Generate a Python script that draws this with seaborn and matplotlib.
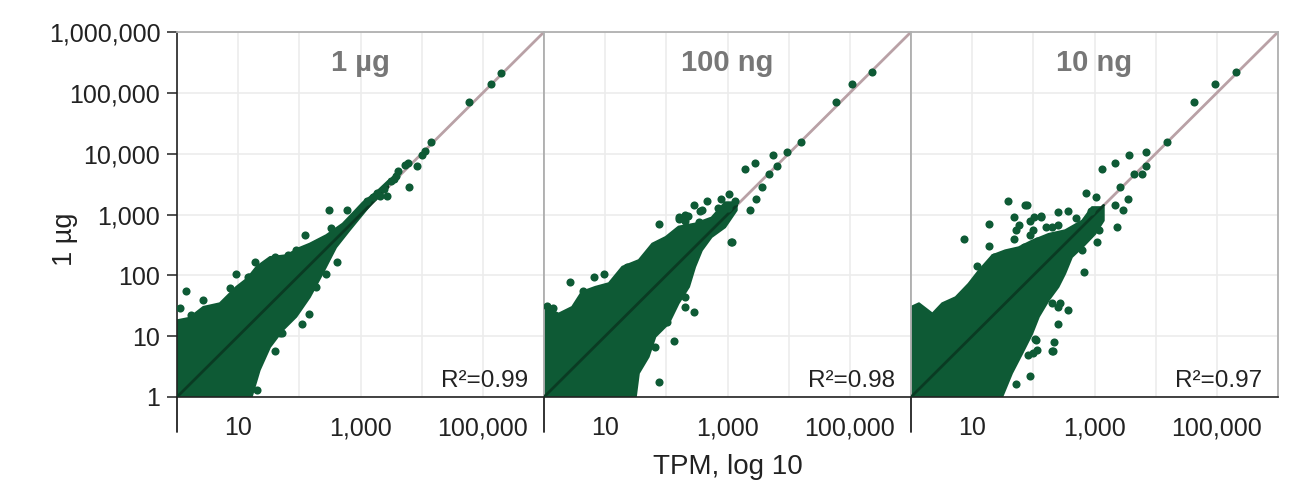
"""Three-panel log-log TPM scatter: 1 µg reference vs. 1 µg / 100 ng / 10 ng input."""

import matplotlib

matplotlib.use("Agg")

import matplotlib.pyplot as plt
import matplotlib.ticker as mticker
import numpy as np
import seaborn as sns

sns.set_style("white")
plt.rcParams["font.family"] = ["Liberation Sans", "DejaVu Sans"]

GREEN = "#0e5a35"
DARK_GREEN = "#0a3b23"
DIAG_COLOR = "#b9a1a6"
GRID_COLOR = "#ececec"
FRAME_GRAY = "#b0b0b0"
INK = "#222222"

PANEL_TITLES = ["1 µg", "100 ng", "10 ng"]
R_SQUARED = [0.99, 0.98, 0.97]
DECADES = [1, 10, 100, 1_000, 10_000, 100_000, 1_000_000]
X_LABELED = [10, 1_000, 100_000]
AXIS_MAX = 1_000_000

# Dense point cloud, outlined in log10 units (upper edge and lower edge, left -> right)
UG1_UPPER_X = [0.0, 0.2, 0.43, 0.7, 0.97, 1.15, 1.3, 1.52, 1.79, 2.0, 2.17, 2.44, 2.71, 2.9, 3.04, 3.26, 3.45]
UG1_UPPER_Y = [1.26, 1.3, 1.48, 1.54, 1.81, 1.95, 2.14, 2.3, 2.33, 2.45, 2.52, 2.66, 2.85, 3.05, 3.2, 3.37, 3.55]
UG1_LOWER_X = [1.22, 1.35, 1.52, 1.73, 1.95, 2.17, 2.38, 2.6, 2.82, 3.04, 3.26, 3.45]
UG1_LOWER_Y = [0.0, 0.44, 0.82, 1.1, 1.32, 1.64, 2.03, 2.46, 2.74, 3.01, 3.28, 3.45]

NG100_UPPER_X = [0.0, 0.24, 0.46, 0.62, 0.84, 1.06, 1.28, 1.55, 1.77, 1.99, 2.2, 2.47, 2.74, 2.96, 3.15]
NG100_UPPER_Y = [1.48, 1.37, 1.48, 1.73, 1.81, 1.87, 2.14, 2.25, 2.52, 2.63, 2.8, 2.85, 2.95, 3.2, 3.2]
NG100_LOWER_X = [1.5, 1.55, 1.71, 1.82, 2.04, 2.2, 2.37, 2.47, 2.58, 2.74, 2.96, 3.15]
NG100_LOWER_Y = [0.0, 0.39, 0.66, 0.99, 1.21, 1.54, 1.81, 2.14, 2.41, 2.63, 2.79, 3.07]

NG10_UPPER_X = [0.0, 0.13, 0.35, 0.51, 0.73, 0.94, 1.11, 1.33, 1.54, 1.76, 1.98, 2.25, 2.52, 2.8, 2.96, 3.15]
NG10_UPPER_Y = [1.48, 1.54, 1.37, 1.54, 1.64, 1.86, 2.08, 2.33, 2.41, 2.46, 2.57, 2.68, 2.74, 2.9, 3.12, 3.12]
NG10_LOWER_X = [1.49, 1.65, 1.82, 1.98, 2.09, 2.25, 2.41, 2.52, 2.63, 2.8, 3.01, 3.15]
NG10_LOWER_Y = [0.0, 0.39, 0.72, 1.04, 1.32, 1.59, 1.81, 2.03, 2.3, 2.46, 2.68, 2.9]

# Individually visible genes (log10 TPM)
UG1_PTS_X = [5.29, 5.13, 4.78, 4.16, 4.06, 4.0, 3.93, 3.8, 3.78, 3.72, 3.62, 3.58, 3.5, 3.55, 3.38,
             3.43, 3.27, 2.49, 2.78, 2.09, 2.62, 1.27, 0.96, 1.17, 0.87, 0.15, 0.42, 0.05, 0.23,
             2.15, 2.04, 1.68, 1.6, 1.3, 1.16, 1.6, 1.82, 1.95, 2.28, 2.52, 1.71, 2.28, 2.44,
             3.1, 3.2, 3.32]
UG1_PTS_Y = [5.33, 5.14, 4.85, 4.2, 4.04, 3.98, 3.8, 3.46, 3.84, 3.82, 3.72, 3.64, 3.55, 3.58, 3.42,
             3.3, 3.36, 3.07, 3.07, 2.67, 2.22, 2.22, 2.02, 1.97, 1.8, 1.75, 1.59, 1.47, 1.34,
             1.36, 1.2, 1.05, 0.76, 0.11, 1.97, 2.3, 2.33, 2.41, 2.52, 2.77, 1.05, 1.81, 2.03,
             3.22, 3.28, 3.3]

NG100_PTS_X = [5.36, 5.04, 4.78, 4.2, 3.98, 3.75, 3.81, 3.68, 3.57, 3.47, 3.45, 3.29, 3.36, 3.06,
               1.88, 0.43, 0.82, 0.98, 0.63, 2.46, 2.13, 1.88, 2.45, 2.67, 3.02, 0.14, 0.05,
               2.35, 2.55, 2.85, 2.2, 2.3, 2.9, 1.36, 1.5, 2.2, 2.59, 2.53, 2.31, 3.07, 2.31,
               2.01, 1.82, 2.31, 3.0, 3.12]
NG100_PTS_Y = [5.34, 5.14, 4.85, 4.19, 4.03, 3.97, 3.8, 3.67, 3.46, 3.26, 3.85, 3.75, 3.07, 2.54,
               2.85, 1.89, 1.98, 2.02, 1.75, 1.4, 0.92, 0.25, 3.16, 3.23, 3.34, 1.46, 1.5,
               2.98, 3.05, 3.1, 2.92, 3.0, 3.25, 2.14, 2.0, 2.96, 3.07, 2.87, 2.9, 2.55, 1.48,
               1.23, 0.82, 1.64, 3.1, 3.22]

NG10_PTS_X = [5.31, 4.97, 4.62, 4.18, 3.84, 3.56, 3.84, 3.65, 3.78, 3.42, 3.55, 3.33, 3.13, 3.34,
              3.46, 3.36, 2.83, 1.58, 1.9, 1.28, 0.86, 1.28, 1.69, 2.13, 2.41, 2.56, 2.43, 2.56,
              2.41, 2.34, 2.05, 1.94, 2.32, 1.99, 3.03, 2.86, 1.72, 2.0, 2.2, 1.95, 2.7, 2.95,
              1.08, 1.35, 1.68, 1.84, 1.95, 2.06, 2.31, 2.41, 1.76, 2.01, 2.12, 1.87, 2.8, 3.04,
              3.07, 2.41, 2.31, 2.31, 2.06, 2.03, 1.92, 1.71]
NG10_PTS_Y = [5.34, 5.14, 4.85, 4.19, 4.03, 3.97, 3.8, 3.66, 3.66, 3.46, 3.26, 3.84, 3.74, 3.16,
              3.08, 2.79, 2.05, 3.23, 3.16, 2.84, 2.59, 2.48, 2.96, 2.98, 3.04, 3.05, 1.54, 1.43,
              1.2, 0.91, 0.93, 0.34, 0.76, 0.72, 3.28, 3.35, 2.75, 2.75, 2.8, 2.9, 2.95, 3.05,
              2.16, 2.3, 2.6, 2.46, 2.66, 2.57, 2.79, 2.82, 2.82, 2.96, 2.96, 3.15, 2.41, 2.55,
              2.74, 1.48, 1.54, 0.76, 0.77, 0.95, 0.69, 0.22]

CLOUDS = [
    (UG1_UPPER_X, UG1_UPPER_Y, UG1_LOWER_X, UG1_LOWER_Y),
    (NG100_UPPER_X, NG100_UPPER_Y, NG100_LOWER_X, NG100_LOWER_Y),
    (NG10_UPPER_X, NG10_UPPER_Y, NG10_LOWER_X, NG10_LOWER_Y),
]
POINTS = [(UG1_PTS_X, UG1_PTS_Y), (NG100_PTS_X, NG100_PTS_Y), (NG10_PTS_X, NG10_PTS_Y)]


def cloud_outline(up_x, up_y, lo_x, lo_y):
    """Closed outline of the dense cloud, reaching past the lower-left corner."""
    xs = [-0.5, -0.5] + list(up_x) + list(lo_x[::-1]) + [lo_x[0]]
    ys = [-0.5, up_y[0]] + list(up_y) + list(lo_y[::-1]) + [-0.5]
    return 10 ** np.array(xs), 10 ** np.array(ys)


fig = plt.figure(figsize=(13.08, 5.0), dpi=100)
W, H = 1308, 500
panel_left = [177, 544, 911]
panel_w, top_px, bottom_px = 367, 32, 397
comma = mticker.FuncFormatter(lambda v, _: f"{int(round(v)):,}")

for i, title in enumerate(PANEL_TITLES):
    ax = fig.add_axes([panel_left[i] / W, 1 - bottom_px / H, panel_w / W, (bottom_px - top_px) / H])
    ax.set_xscale("log")
    ax.set_yscale("log")
    ax.set_xlim(1, AXIS_MAX)
    ax.set_ylim(1, AXIS_MAX)

    # identity line
    ax.plot([1, AXIS_MAX], [1, AXIS_MAX], color=DIAG_COLOR, lw=2, zorder=1)

    up_x, up_y, lo_x, lo_y = CLOUDS[i]
    cx, cy = cloud_outline(up_x, up_y, lo_x, lo_y)
    ax.fill(cx, cy, color=GREEN, lw=1.5, edgecolor=GREEN, joinstyle="round", zorder=2)
    tip = 10 ** lo_x[-1]
    ax.plot([1, tip], [1, tip], color=DARK_GREEN, lw=2.0, zorder=3)

    px, py = POINTS[i]
    sns.scatterplot(x=10 ** np.array(px), y=10 ** np.array(py), ax=ax, color=GREEN,
                    s=34, linewidth=0, zorder=4)

    # ticks and grid
    ax.yaxis.set_major_locator(mticker.FixedLocator(DECADES))
    ax.yaxis.set_minor_locator(mticker.NullLocator())
    ax.xaxis.set_major_locator(mticker.FixedLocator(X_LABELED))
    ax.xaxis.set_minor_locator(mticker.FixedLocator(DECADES))
    ax.xaxis.set_major_formatter(comma)
    ax.xaxis.set_minor_formatter(mticker.NullFormatter())
    ax.yaxis.set_major_formatter(comma)
    ax.grid(which="both", color=GRID_COLOR, lw=1.2)
    ax.set_axisbelow(True)
    ax.tick_params(axis="x", which="major", length=7, width=1.1, color=INK,
                   labelsize=18, labelcolor=INK, pad=7)
    ax.tick_params(axis="x", which="minor", length=0)
    if i == 0:
        ax.tick_params(axis="y", which="major", length=7, width=1.1, color=INK,
                       labelsize=18, labelcolor=INK, pad=5, left=True)
    else:
        ax.tick_params(axis="y", which="both", left=False, labelleft=False)

    for side in ("top", "right", "left"):
        ax.spines[side].set_color(FRAME_GRAY)
        ax.spines[side].set_linewidth(1.3)
    ax.spines["bottom"].set_color(INK)
    ax.spines["bottom"].set_linewidth(1.2)
    if i == 0:
        ax.spines["left"].set_color(INK)
        ax.spines["left"].set_linewidth(1.2)
    # long tick at the panel's left edge below the x axis
    ax.plot([0, 0], [0, -0.096], transform=ax.transAxes, color=INK, lw=1.3,
            clip_on=False, zorder=5)

    ax.text(0.5, 0.894, title, transform=ax.transAxes, ha="center", va="baseline",
            fontsize=21, fontweight="bold", color="#777777")
    ax.text(0.956, 0.028, f"R²={R_SQUARED[i]:.2f}", transform=ax.transAxes,
            ha="right", va="baseline", fontsize=17.5, color=INK)
    ax.set_xlabel("")
    ax.set_ylabel("")

fig.text(65 / W, 1 - 239 / H, "1 µg", rotation=90, ha="center", va="center",
         fontsize=19.5, color=INK)
fig.text(727.5 / W, 1 - 467 / H, "TPM, log 10", ha="center", va="center",
         fontsize=20, color=INK)

fig.savefig("out.png", dpi=100)
plt.close(fig)
